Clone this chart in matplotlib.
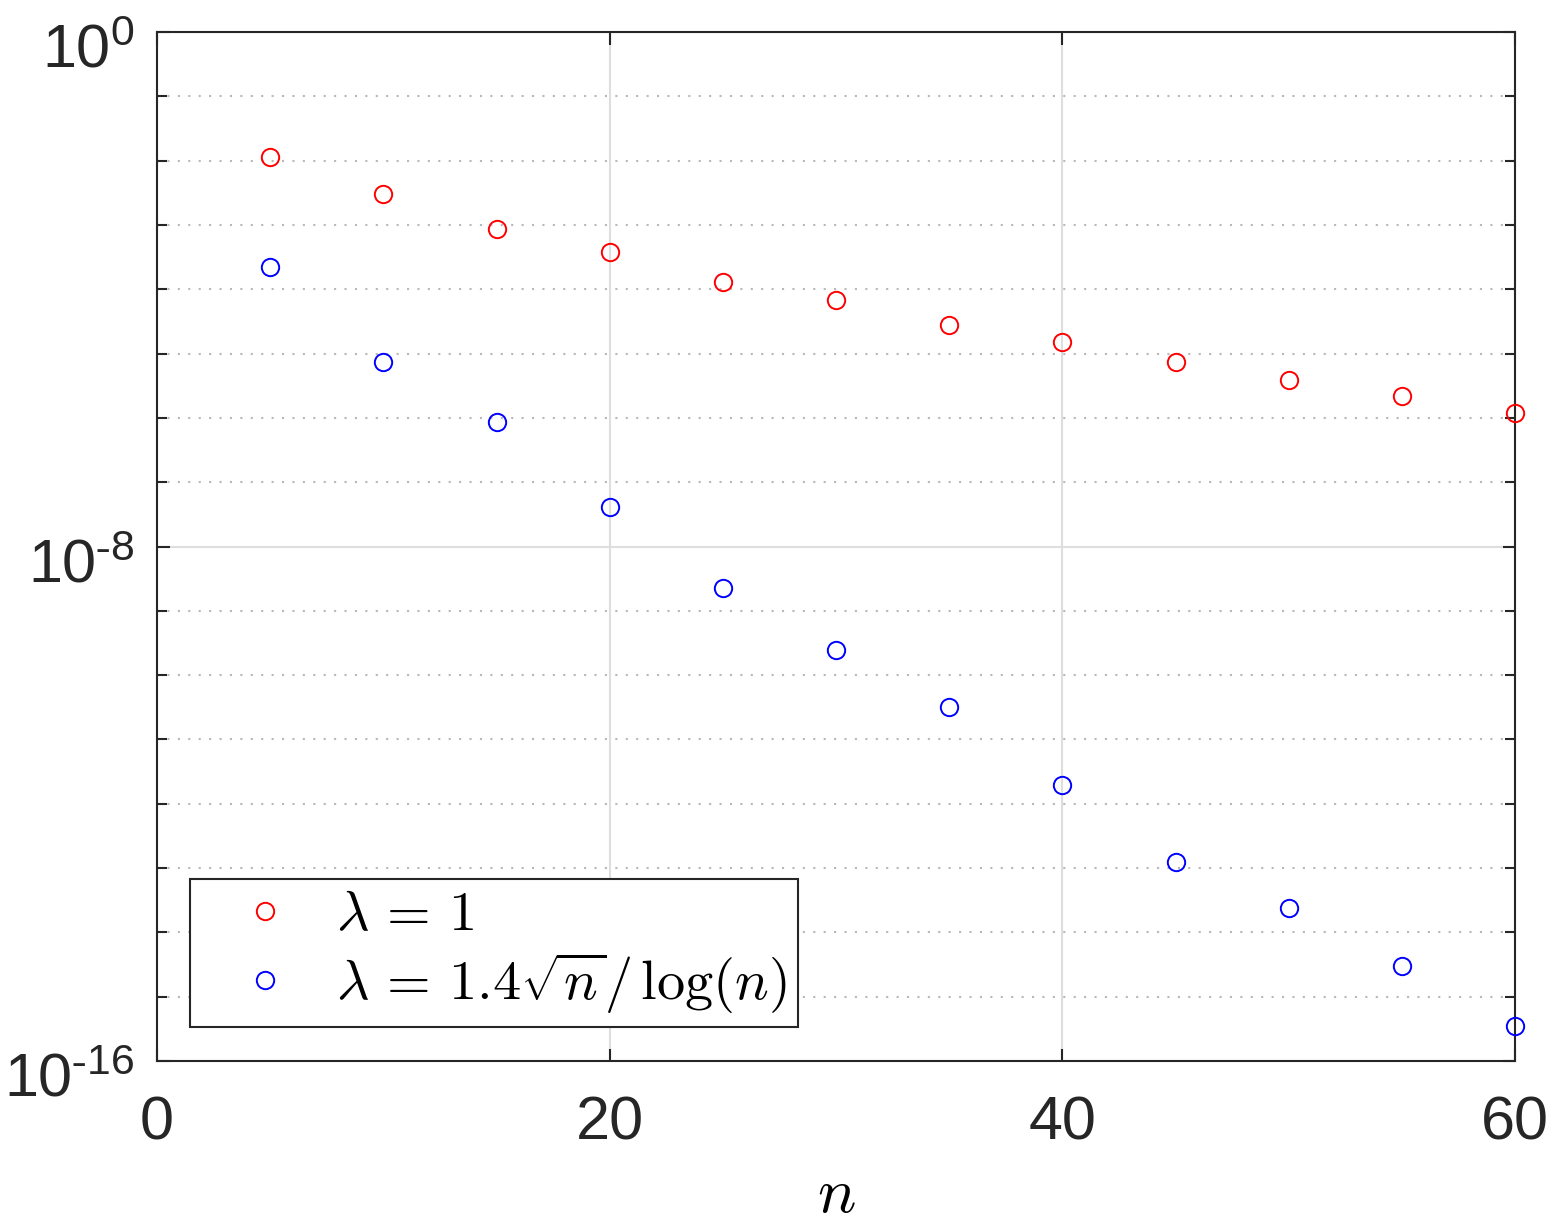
import matplotlib
matplotlib.use('Agg')
import matplotlib.pyplot as plt
import matplotlib.transforms as mtransforms
import numpy as np
from matplotlib.ticker import FixedLocator, FixedFormatter

# dados (erro em escala log)
n = [5, 10, 15, 20, 25, 30, 35, 40, 45, 50, 55, 60]
log_err_lambda1 = [-1.94, -2.52, -3.06, -3.42, -3.89, -4.17, -4.56, -4.82, -5.13, -5.41, -5.66, -5.93]
log_err_lambda2 = [-3.65, -5.13, -6.07, -7.39, -8.65, -9.61, -10.50, -11.71, -12.91, -13.62, -14.53, -15.46]

err1 = 10.0 ** np.array(log_err_lambda1)
err2 = 10.0 ** np.array(log_err_lambda2)

plt.rcParams['font.family'] = ['Liberation Sans', 'DejaVu Sans']
plt.rcParams['mathtext.fontset'] = 'cm'

cor_eixo = '#262626'

fig = plt.figure(figsize=(15.46, 12.23), dpi=100)
ax = fig.add_axes([157/1546, 1 - 1061/1223, (1515-157)/1546, (1061-32)/1223])

ax.plot(n, err1, 'o', mfc='none', mec='red', ms=12.5, mew=1.4, clip_on=False, zorder=5,
        label=r'$\lambda \,=\, 1$')
ax.plot(n, err2, 'o', mfc='none', mec='blue', ms=12.5, mew=1.4, clip_on=False, zorder=5,
        label=r'$\lambda \,=\, 1.4\sqrt{n}/\,\log(n)$')

ax.set_yscale('log')
ax.set_xlim(0, 60)
ax.set_ylim(1e-16, 1e0)

ax.xaxis.set_major_locator(FixedLocator([0, 20, 40, 60]))
ax.yaxis.set_major_locator(FixedLocator([1e-16, 1e-8, 1e0]))
ax.yaxis.set_major_formatter(FixedFormatter([r'$\mathregular{10^{\text{-}16}}$',
                                             r'$\mathregular{10^{\text{-}8}}$',
                                             r'$\mathregular{10^{0}}$']))
ax.yaxis.set_minor_locator(FixedLocator([10.0 ** k for k in range(-15, 0) if k != -8]))
ax.yaxis.set_minor_formatter(FixedFormatter([]))

ax.grid(True, which='major', color='#dedede', linewidth=1.5, linestyle='-')
ax.grid(True, which='minor', axis='y', color='#b8b8b8', linewidth=1.5, linestyle=(0, (1, 4)))
ax.set_axisbelow(True)

ax.tick_params(which='both', direction='in', top=True, right=True, colors=cor_eixo,
               labelsize=44, width=1.5)
ax.tick_params(which='major', length=9)
ax.tick_params(which='minor', length=7)
ax.tick_params(axis='x', pad=25)
ax.tick_params(axis='y', pad=16)
for s in ax.spines.values():
    s.set_color(cor_eixo)
    s.set_linewidth(1.5)

# descer um pouco os rotulos do eixo y (estilo matlab)
desloc = mtransforms.ScaledTranslation(0, -10/72, fig.dpi_scale_trans)
for t in ax.yaxis.get_major_ticks():
    t.label1.set_transform(t.label1.get_transform() + desloc)

ax.set_xlabel(r'$n$', fontsize=46, labelpad=9)

leg = ax.legend(loc='lower left', bbox_to_anchor=(33/1358, 34/1029), borderaxespad=0,
                fontsize=40.5, frameon=True, fancybox=False, edgecolor=cor_eixo, framealpha=1,
                handletextpad=0.12, borderpad=0.2, labelspacing=0.14, handlelength=2.28)
leg.get_frame().set_linewidth(1.5)

plt.savefig('out.png', dpi=100)
plt.close()
